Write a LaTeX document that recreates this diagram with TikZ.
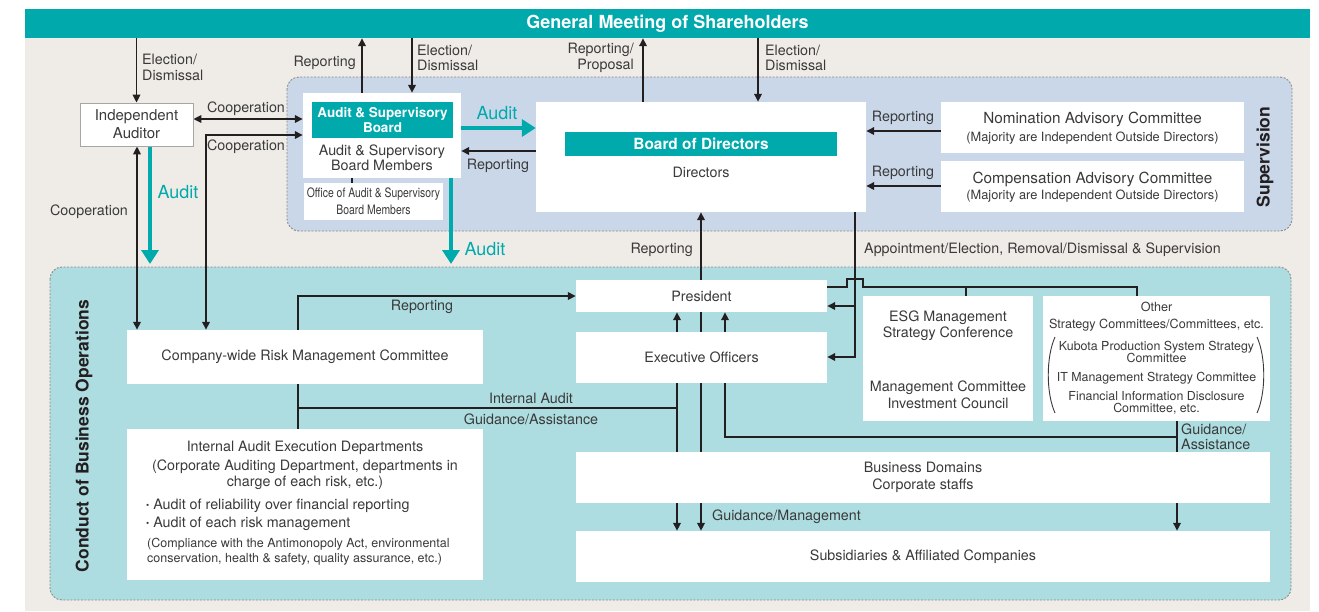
\documentclass[tikz,border=0pt]{standalone}
\usepackage{fontspec}
\setmainfont{TeX Gyre Heros}
\newfontfamily\condfont[FakeStretch=0.8]{TeX Gyre Heros}
\usetikzlibrary{arrows.meta}
\pgfdeclarelayer{back}
\pgfdeclarelayer{lines}
\pgfsetlayers{back,lines,main}
\definecolor{tealA}{HTML}{00A9AC}
\definecolor{beigeA}{HTML}{EFECE8}
\definecolor{supblue}{HTML}{C9D7E9}
\definecolor{opteal}{HTML}{ADDDE0}
\definecolor{txt}{HTML}{3A3A3A}
\definecolor{ink}{HTML}{231F20}
\definecolor{dashgray}{HTML}{8A8A8A}
\newcommand\fs[2]{\fontsize{#1}{#2}\selectfont}
\begin{document}
\begin{tikzpicture}[x=1pt,y=-1pt,
 box/.style={fill=white, draw=none, inner sep=0pt, text=txt, align=center, font=\fs{14.3}{16}},
 lbl/.style={text=txt, inner sep=0pt, align=center, yshift=-1pt, font=\fs{14.3}{15.5}},
 ln/.style={draw=ink, line width=1.7pt},
 arr/.style={ln, -{Triangle[length=8pt,width=7.5pt]}},
 darr/.style={ln, {Triangle[length=8pt,width=7.5pt]}-{Triangle[length=8pt,width=7.5pt]}},
 tarr/.style={draw=tealA, line width=3.5pt, -{Triangle[length=14pt,width=17pt]}},
 tlbl/.style={text=tealA, inner sep=0pt, font=\fs{18}{20}},
 region/.style={draw=dashgray, dash pattern=on 2pt off 1.5pt, line width=0.9pt, rounded corners=12pt},
 tealbox/.style={fill=tealA, inner sep=0pt, text=white, align=center},
 side/.style={text=ink, inner sep=0pt, rotate=90, font=\bfseries\fs{17.5}{20}},
]
\useasboundingbox (0,0) rectangle (1319,611);
\begin{pgfonlayer}{back}
\fill[white] (0,0) rectangle (1319,611);
\fill[beigeA] (25,9) rectangle (1310,611);
\draw[region, fill=supblue] (287,77) rectangle (1292,231);
\draw[region, fill=opteal] (50,267) rectangle (1291,600);
\end{pgfonlayer}

% header
\node[tealbox, minimum width=1285pt, minimum height=29pt, font=\bfseries\fs{18}{20}] (gm) at (667.5,23.5) {General Meeting of Shareholders};

% side labels
\node[side] (sup) at (1265,157) {Supervision};
\node[side] (cbo) at (84,436) {Conduct of Business Operations};

% supervision boxes
\node[box, draw=gray!70, line width=0.8pt, minimum width=113pt, minimum height=43pt, font=\fs{15}{18}] (ia) at (136.5,124.5) {Independent\\Auditor};
\node[box, minimum width=158pt, minimum height=85pt] (asb) at (382,135.5) {};
\node[tealbox, minimum width=141pt, minimum height=36pt, font=\bfseries\fs{13.5}{15}] (asbt) at (382.5,120) {Audit \& Supervisory\\Board};
\node[lbl] (asbm) at (382,157) {Audit \& Supervisory\\Board Members};
\node[box, minimum width=139pt, minimum height=37pt, font=\condfont\fs{13}{17}] (office) at (373.5,201.5) {Office of Audit \& Supervisory\\Board Members};
\node[box, minimum width=330pt, minimum height=110pt] (bod) at (701,157) {};
\node[tealbox, minimum width=272pt, minimum height=24pt, font=\bfseries\fs{15.4}{17}] (bodt) at (701,144) {Board of Directors};
\node[lbl] (dirs) at (701,171) {Directors};
\node[box, minimum width=303pt, minimum height=51pt] (nom) at (1092.5,127.5) {};
\node[lbl, font=\fs{15.3}{17}] (nomt) at (1092.5,118) {Nomination Advisory Committee};
\node[lbl, font=\fs{12.8}{14}] (noms) at (1092.5,137) {(Majority are Independent Outside Directors)};
\node[box, minimum width=303pt, minimum height=51pt] (comp) at (1092.5,186.5) {};
\node[lbl, font=\fs{15.3}{17}] (compt) at (1092.5,178) {Compensation Advisory Committee};
\node[lbl, font=\fs{12.8}{14}] (comps) at (1092.5,195) {(Majority are Independent Outside Directors)};

% operations boxes
\node[box, minimum width=251pt, minimum height=32pt] (pres) at (701.5,296) {President};
\node[box, minimum width=251pt, minimum height=51pt] (exec) at (701.5,357.5) {Executive Officers};
\node[box, minimum width=356pt, minimum height=54pt] (risk) at (305,357) {\raisebox{-1pt}{Company-wide Risk Management Committee}};
\node[box, minimum width=170pt, minimum height=125pt] (esg) at (948,358.5) {};
\node[lbl, font=\fs{14.3}{16}] (esg1) at (948,325) {ESG Management\\Strategy Conference};
\node[lbl, font=\fs{14.3}{17}] (esg2) at (948,393.5) {Management Committee\\Investment Council};
\node[box, minimum width=227pt, minimum height=125pt] (other) at (1156.5,358.5) {};
\node[lbl, font=\fs{12.6}{17}] (oth1) at (1156.5,315.5) {Other\\Strategy Committees/Committees, etc.};
\node[lbl, font=\fs{12.4}{12.5}] (oth2) at (1156.5,351) {Kubota Production System Strategy\\Committee};
\node[lbl, font=\fs{12.4}{12.5}] (oth3) at (1156.5,377) {IT Management Strategy Committee};
\node[lbl, font=\fs{12.4}{12.5}] (oth4) at (1156.5,402) {Financial Information Disclosure\\Committee, etc.};
\draw[txt, line width=0.9pt] (1055,337) .. controls (1046,357) and (1046,393) .. (1055,413);
\draw[txt, line width=0.9pt] (1257,337) .. controls (1266,357) and (1266,393) .. (1257,413);
\node[box, minimum width=356pt, minimum height=151pt] (iaed) at (305,504.5) {};
\node[lbl] (iaed1) at (305,447) {Internal Audit Execution Departments};
\node[lbl, font=\fs{14.3}{15.5}] (iaed2) at (305,473.5) {(Corporate Auditing Department, departments in\\charge of each risk, etc.)};
\node[lbl, anchor=west] (iaed3) at (146,505) {{\fs{9}{10}\raisebox{1.5pt}{•}} Audit of reliability over financial reporting};
\node[lbl, anchor=west] (iaed4) at (146,523) {{\fs{9}{10}\raisebox{1.5pt}{•}} Audit of each risk management};
\node[lbl, anchor=west, font=\fs{12.5}{14}] (iaed5) at (147,543) {(Compliance with the Antimonopoly Act, environmental};
\node[lbl, anchor=west, font=\fs{12.5}{14}] (iaed6) at (147,558) {conservation, health \& safety, quality assurance, etc.)};
\node[box, minimum width=694pt, minimum height=51pt, font=\fs{14.3}{17}] (bd) at (923,477.5) {Business Domains\\Corporate staffs};
\node[box, minimum width=694pt, minimum height=51pt] (subs) at (923,556.5) {Subsidiaries \& Affiliated Companies};

\coordinate (aud1) at (150,264);
\coordinate (aud2) at (451,264);

\begin{pgfonlayer}{lines}
% top connectors
\draw[arr] (gm.south -| ia.north) -- (ia.north);
\draw[arr] (asb.north -| 362,0) -- (gm.south -| 362,0);
\draw[arr] (gm.south -| 412,0) -- (asb.north -| 412,0);
\draw[arr] (bod.north -| 643,0) -- (gm.south -| 643,0);
\draw[arr] (gm.south -| 758,0) -- (bod.north -| 758,0);
\draw[darr] (ia.east |- 0,119) -- (asb.west |- 0,119);
\draw[darr] (asb.west |- 0,135) -- (206,135) -- (risk.north -| 206,0);
\draw[darr] (ia.south -| 137,0) -- (risk.north -| 137,0);
\draw[ln, line width=1.2pt] (asb.south -| 352,0) -- (office.north -| 352,0);
\draw[tarr] (ia.south -| 150,0) -- (aud1);
\draw[tarr] (asb.east |- 0,128) -- (bod.west |- 0,128);
\draw[tarr] (asb.south -| 451,0) -- (aud2);
\draw[arr] (bod.west |- 0,151) -- (asb.east |- 0,151);
\draw[arr] (nom.west |- 0,131) -- (bod.east |- 0,131);
\draw[arr] (comp.west |- 0,186) -- (bod.east |- 0,186);
\draw[arr] (pres.north -| 701,0) -- (bod.south -| 701,0);
% appointment
\draw[arr] (bod.south -| 855,0) |- (exec.east |- 0,357);
\draw[arr] (855,306) -- (pres.east |- 0,306);
\draw[ln] (pres.east |- 0,287) -- (847,287) -- (847,279) -- (863,279) -- (863,287) -| (other.north -| 1137,0);
\draw[ln] (966,287) -- (esg.north -| 966,0);
% operations
\draw[arr] (iaed.north -| 298,0) -- (298,296) -- (pres.west |- 0,296);
\draw[ln] (298,408) -- (677,408);
\draw[arr] (exec.north -| 677,0) -- (pres.south -| 677,0);
\draw[arr] (exec.north -| 725,0) -- (pres.south -| 725,0);
\draw[arr] (exec.south -| 677,0) -- (subs.north -| 677,0);
\draw[arr] (pres.south -| 701,0) -- (subs.north -| 701,0);
\draw[ln] (exec.south -| 725,0) |- (1177,437);
\draw[arr] (other.south -| 1177,0) -- (subs.north -| 1177,0);
\end{pgfonlayer}

% labels
\node[lbl, anchor=west, align=left, font=\fs{14.3}{16}] (l1) at (142,66) {Election/\\Dismissal};
\node[lbl, anchor=east] (l2) at (356,62) {Reporting};
\node[lbl, anchor=west, align=left] (l3) at (417,57) {Election/\\Dismissal};
\node[lbl, anchor=east, align=right] (l4) at (634,57) {Reporting/\\Proposal};
\node[lbl, anchor=west, align=left] (l5) at (765,57) {Election/\\Dismissal};
\node[lbl] (l6) at (246,108) {Cooperation};
\node[lbl] (l7) at (246,146) {Cooperation};
\node[lbl] (l8) at (89,211) {Cooperation};
\node[tlbl] (a1) at (178,192) {Audit};
\node[tlbl] (a2) at (497,113) {Audit};
\node[tlbl] (a3) at (485,249) {Audit};
\node[lbl] (l9) at (498,165) {Reporting};
\node[lbl] (l10) at (903,117) {Reporting};
\node[lbl] (l11) at (903,172) {Reporting};
\node[lbl, anchor=east] (l12) at (693,249) {Reporting};
\node[lbl, anchor=west] (l13) at (864,249) {Appointment/Election, Removal/Dismissal \& Supervision};
\node[lbl] (l14) at (422,306) {Reporting};
\node[lbl] (l15) at (531,397) {Internal Audit};
\node[lbl] (l16) at (531,418) {Guidance/Assistance};
\node[lbl, anchor=west, align=left] (l17) at (1181,436) {Guidance/\\Assistance};
\node[lbl, anchor=west] (l18) at (712,516) {Guidance/Management};
\end{tikzpicture}
\end{document}
